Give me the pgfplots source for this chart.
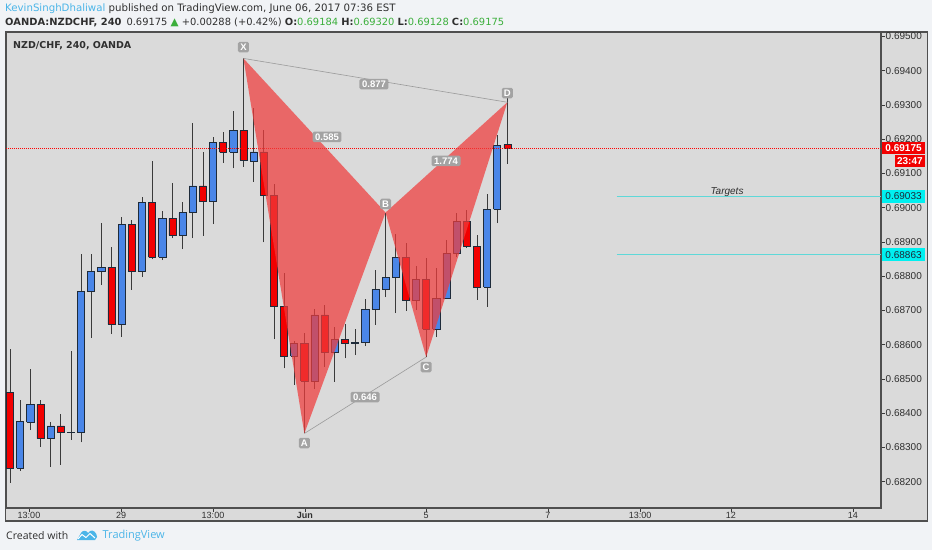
\documentclass[border=0pt]{standalone}
\usepackage{fontspec}
\setmainfont{Open Sans}
\newfontfamily\lib{Liberation Sans}
\newfontfamily\dejavu{DejaVu Sans}
\usepackage{xcolor}
\usepackage{pgfplots}
\usepackage{pgfplotstable}
\pgfplotsset{compat=1.18}

\definecolor{outerbg}{HTML}{F1F3F6}
\definecolor{plotbg}{HTML}{DADADA}
\definecolor{frame}{HTML}{4F4F4F}
\definecolor{bull}{HTML}{4A86E8}
\definecolor{bear}{HTML}{F20000}
\definecolor{edge}{HTML}{1E2B3A}
\definecolor{wick}{HTML}{3A3A3A}
\definecolor{patred}{HTML}{F03C3C}
\definecolor{patbox}{HTML}{A3A3A3}
\definecolor{patline}{HTML}{9A9A9A}
\definecolor{tgt}{HTML}{5ED8D8}
\definecolor{tgtbox}{HTML}{00F0F0}
\definecolor{tvblue}{HTML}{4BB5E8}
\definecolor{tvgreen}{HTML}{3BAF3B}
\definecolor{hdrtext}{HTML}{2F2F2F}

% 4h candles: index, open, high, low, close
\pgfplotstableread{
i o h l c
0 0.68461 0.68587 0.68197 0.68239
1 0.68239 0.68439 0.68232 0.68377
2 0.68375 0.68528 0.68351 0.68426
3 0.68426 0.68439 0.68302 0.68327
4 0.68327 0.68374 0.68244 0.68363
5 0.68363 0.68398 0.68249 0.68343
6 0.68343 0.68582 0.68322 0.68344
7 0.68343 0.68865 0.68315 0.68755
8 0.68755 0.68865 0.68621 0.68815
9 0.68813 0.68956 0.68774 0.68826
10 0.68826 0.68886 0.68631 0.68660
11 0.68660 0.68972 0.68624 0.68952
12 0.68952 0.68964 0.68760 0.68815
13 0.68815 0.69032 0.68799 0.69015
14 0.69015 0.69137 0.68849 0.68855
15 0.68855 0.68991 0.68847 0.68969
16 0.68969 0.69071 0.68911 0.68921
17 0.68921 0.69018 0.68879 0.68986
18 0.68986 0.69247 0.68911 0.69064
19 0.69064 0.69162 0.68918 0.69018
20 0.69018 0.69207 0.68952 0.69191
21 0.69191 0.69220 0.69132 0.69162
22 0.69162 0.69283 0.69115 0.69225
23 0.69225 0.69436 0.69120 0.69139
24 0.69137 0.69290 0.69076 0.69163
25 0.69163 0.69227 0.68899 0.69036
26 0.69036 0.69069 0.68616 0.68713
27 0.68713 0.68809 0.68531 0.68567
28 0.68567 0.68612 0.68483 0.68604
29 0.68604 0.68633 0.68341 0.68494
30 0.68494 0.68704 0.68470 0.68687
31 0.68687 0.68716 0.68536 0.68578
32 0.68578 0.68651 0.68492 0.68616
33 0.68616 0.68661 0.68560 0.68604
34 0.68605 0.68645 0.68570 0.68606
35 0.68606 0.68733 0.68596 0.68704
36 0.68704 0.68818 0.68658 0.68762
37 0.68762 0.68986 0.68739 0.68797
38 0.68797 0.68923 0.68692 0.68855
39 0.68855 0.68896 0.68699 0.68729
40 0.68729 0.68831 0.68701 0.68791
41 0.68791 0.68852 0.68564 0.68645
42 0.68645 0.68823 0.68622 0.68736
43 0.68736 0.68906 0.68735 0.68867
44 0.68867 0.68984 0.68857 0.68959
45 0.68959 0.68993 0.68882 0.68886
46 0.68886 0.68920 0.68731 0.68768
47 0.68768 0.69039 0.68711 0.68995
48 0.68995 0.69212 0.68955 0.69183
49 0.69184 0.69320 0.69128 0.69175
}\ohlc

\newcommand\axfont{\lib\fontsize{10}{11}\selectfont}
\newcommand\hdrfont{\dejavu\fontsize{10.2}{12}\selectfont}

\begin{document}
\begin{tikzpicture}[x=1pt,y=1pt]
\fill[outerbg] (0,0) rectangle (932,550);
\path[use as bounding box] (0,0) rectangle (932,550);
% chart container (plot + price scale + time scale)
\filldraw[fill=plotbg, draw=frame, line width=1.1pt] (5.5,29) rectangle (927.5,518);

\begin{axis}[
    at={(6pt,42pt)}, anchor=south west,
    scale only axis, width=875pt, height=476pt,
    xmin=-0.394, xmax=85.813,
    ymin=0.681234, ymax=0.695131,
    clip=false,
    axis line style={draw=frame, line width=1.1pt},
    tick align=outside, major tick length=3.5pt,
    tick style={draw=wick, line width=0.6pt},
    xtick pos=left, ytick pos=right,
    yticklabel pos=right,
    ytick={0.682,0.683,0.684,0.685,0.686,0.687,0.688,0.689,0.690,0.691,0.692,0.693,0.694,0.695},
    /pgf/number format/assume math mode=true,
    yticklabel style={font=\axfont, text=hdrtext, inner sep=1pt,
        /pgf/number format/.cd, fixed, fixed zerofill, precision=5},
    scaled y ticks=false,
    xtick={1.872,10.94,20.0,29.06,40.99,53.0,62.07,71.03,83.05},
    xticklabels={13:00,29,13:00,\textbf{Jun},5,7,13:00,12,14},
    xticklabel style={font=\lib\fontsize{9}{10}\selectfont, text=hdrtext, inner sep=1pt},
]
% candles: wick from low to high, body between open and close
\pgfplotsforeachungrouped \r in {0,...,49}{%
  \pgfplotstablegetelem{\r}{i}\of\ohlc \let\ci\pgfplotsretval
  \pgfplotstablegetelem{\r}{o}\of\ohlc \let\co\pgfplotsretval
  \pgfplotstablegetelem{\r}{h}\of\ohlc \let\ch\pgfplotsretval
  \pgfplotstablegetelem{\r}{l}\of\ohlc \let\cl\pgfplotsretval
  \pgfplotstablegetelem{\r}{c}\of\ohlc \let\cc\pgfplotsretval
  \ifdim\cc pt<\co pt
    \def\cfill{bear}\let\blo\cc\let\bhi\co
  \else
    \def\cfill{bull}\let\blo\co\let\bhi\cc
  \fi
  \pgfmathsetmacro\xl{\ci-0.35}%
  \pgfmathsetmacro\xr{\ci+0.35}%
  \edef\docandle{%
    \noexpand\addplot[draw=wick, line width=0.7pt] coordinates {(\ci,\cl) (\ci,\ch)};
    \noexpand\addplot[draw=edge, line width=0.6pt, fill=\cfill] coordinates
      {(\xl,\blo) (\xr,\blo) (\xr,\bhi) (\xl,\bhi) (\xl,\blo)};}%
  \docandle
}

% last price and targets
\addplot[draw=red, line width=0.6pt, dash pattern=on 1pt off 1pt] coordinates {(-0.394,0.69175) (85.813,0.69175)};
\addplot[draw=tgt, line width=1.1pt] coordinates {(59.8,0.69033) (85.813,0.69033)};
\addplot[draw=tgt, line width=1.1pt] coordinates {(59.8,0.68863) (85.813,0.68863)};
\node[font=\lib\itshape\fontsize{10}{11}\selectfont, text=hdrtext] at (axis cs:70.64,0.69047) {Targets};

% harmonic pattern XABCD
\addplot[fill=patred, fill opacity=0.72, draw=none] coordinates {(23,0.69436) (29,0.68341) (37,0.68986) (23,0.69436)};
\addplot[fill=patred, fill opacity=0.72, draw=none] coordinates {(37,0.68986) (41,0.68564) (49,0.69308) (37,0.68986)};
\addplot[draw=patline, line width=0.6pt] coordinates {(23,0.69436) (49,0.69308)};
\addplot[draw=patline, line width=0.6pt] coordinates {(29,0.68341) (41,0.68564)};

\tikzset{patlbl/.style={fill=patbox, text=white, rounded corners=1.5pt,
    inner xsep=2.6pt, inner ysep=1.4pt, minimum width=11pt, minimum height=10.5pt,
    font=\lib\bfseries\fontsize{9.5}{10}\selectfont}}
\node[patlbl] at (axis cs:31.23,0.69207) {0.585};
\node[patlbl] at (axis cs:35.86,0.69361) {0.877};
\node[patlbl] at (axis cs:42.96,0.69137) {1.774};
\node[patlbl] at (axis cs:34.98,0.68447) {0.646};
\node[patlbl, inner xsep=1.5pt] at (axis cs:23,0.69469) {X};
\node[patlbl, inner xsep=1.5pt] at (axis cs:29,0.68313) {A};
\node[patlbl, inner xsep=1.5pt] at (axis cs:37,0.69011) {B};
\node[patlbl, inner xsep=1.5pt] at (axis cs:41,0.68535) {C};
\node[patlbl, inner xsep=1.5pt] at (axis cs:49,0.69335) {D};

\coordinate (plast) at (axis cs:85.813,0.69175);
\coordinate (ptime) at (axis cs:85.813,0.69139);
\coordinate (ptone) at (axis cs:85.813,0.69033);
\coordinate (pttwo) at (axis cs:85.813,0.68863);
\end{axis}

% price scale markers
\tikzset{pbox/.style={anchor=west, inner sep=0pt, minimum width=43.5pt, minimum height=12.5pt,
    font=\lib\fontsize{10}{11}\selectfont}}
\node[pbox, fill=bear, text=white, font=\lib\bfseries\fontsize{10}{11}\selectfont] at ([xshift=0.6pt]plast) {0.69175};
\node[anchor=east, fill=bear, text=white, inner sep=0pt, minimum width=30pt, minimum height=12pt,
    font=\lib\bfseries\fontsize{10}{11}\selectfont] at ([xshift=44.1pt,yshift=-0.5pt]ptime) {23:47};
\node[pbox, fill=tgtbox, text=edge] at ([xshift=0.6pt]ptone) {0.69033};
\node[pbox, fill=tgtbox, text=edge] at ([xshift=0.6pt]pttwo) {0.68863};

% header
\node[anchor=west, inner sep=0pt, text=hdrtext, font=\hdrfont] at (5,541.7)
  {\textcolor{tvblue}{KevinSinghDhaliwal} published on TradingView.com, June 06, 2017 07:36 EST};
\node[anchor=west, inner sep=0pt, text=hdrtext, font=\dejavu\fontsize{9.9}{12}\selectfont] at (5,527.3)
  {\textbf{OANDA:NZDCHF, 240}\enspace 0.69175 {\fontsize{10.5}{11}\selectfont\color{tvgreen}▲}
   +0.00288 (+0.42\%) \textbf{O:}\textcolor{tvgreen}{0.69184} \textbf{H:}\textcolor{tvgreen}{0.69320}
   \textbf{L:}\textcolor{tvgreen}{0.69128} \textbf{C:}\textcolor{tvgreen}{0.69175}};
\node[anchor=west, inner sep=0pt, text=hdrtext, font=\dejavu\bfseries\fontsize{9.5}{11}\selectfont] at (13,504.3)
  {NZD/CHF, 240, OANDA};

% footer
\node[anchor=west, inner sep=0pt, text=hdrtext, font=\fontsize{10.5}{12}\selectfont] at (6,14) {Created with};
\fill[tvblue] (77,10) -- (81,17) .. controls (83,20) and (86,20) .. (88,17) -- (90,19)
   .. controls (93,21) and (97,17) .. (97,13) -- (95,10) -- cycle;
\draw[white, line width=1pt] (78,11) -- (82,15.5) -- (86,12.5) -- (90,16.5) -- (95,12);
\node[anchor=west, inner sep=0pt, text=tvblue, font=\fontsize{11}{12}\selectfont] at (102.5,14) {TradingView};
\end{tikzpicture}
\end{document}
